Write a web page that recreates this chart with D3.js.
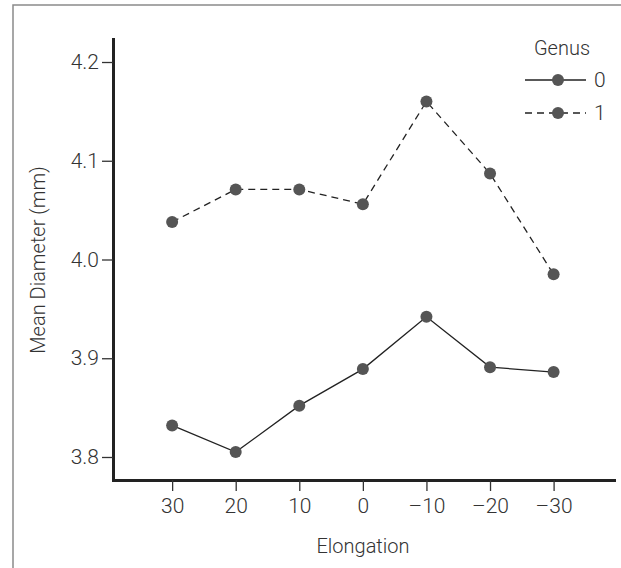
<!DOCTYPE html>
<html>
<head>
<meta charset="utf-8">
<title>Mean Diameter by Elongation</title>
<script src="https://d3js.org/d3.v7.min.js"></script>
<style>
  body { margin: 0; background: #fff; }
  text { font-family: Roboto, "Liberation Sans", sans-serif; font-weight: 300; fill: #333; }
  .axis .tick line { stroke: #333; stroke-width: 1.3; }
  .axis .domain { stroke: #222; stroke-width: 3; stroke-linecap: square; }
  .axis text { font-size: 21px; }
</style>
</head>
<body>
<script>
var elongation = [30, 20, 10, 0, -10, -20, -30];
var genus0 = [3.832, 3.805, 3.852, 3.889, 3.942, 3.891, 3.886];
var genus1 = [4.038, 4.071, 4.071, 4.056, 4.160, 4.087, 3.985];
var yTicks = [3.8, 3.9, 4.0, 4.1, 4.2];
var genusNames = ["0", "1"];

var width = 621, height = 568;

var svg = d3.select("body").append("svg")
    .attr("width", width)
    .attr("height", height);

// gray frame round the figure
svg.append("rect")
    .attr("x", 13).attr("y", 5)
    .attr("width", 640).attr("height", 600)
    .attr("fill", "none")
    .attr("stroke", "#8a8a8a")
    .attr("stroke-width", 1.5);

var x = d3.scaleLinear().domain([39.3, -39.5]).range([113, 614]);
var y = d3.scaleLinear().domain([3.7767, 4.2233]).range([480, 39]);

var xAxis = d3.axisBottom(x)
    .tickValues(elongation)
    .tickSize(11).tickSizeOuter(0).tickPadding(7)
    .tickFormat(function(d) { return d < 0 ? "\u2013" + Math.abs(d) : d; });
var yAxis = d3.axisLeft(y)
    .tickValues(yTicks)
    .tickSize(11).tickSizeOuter(0).tickPadding(3)
    .tickFormat(d3.format(".1f"));

svg.append("g").attr("class", "axis")
    .attr("transform", "translate(0,480)")
    .call(xAxis);
svg.append("g").attr("class", "axis")
    .attr("transform", "translate(113,0)")
    .call(yAxis);

// axis titles
svg.append("text")
    .attr("x", 363).attr("y", 553)
    .attr("text-anchor", "middle")
    .style("font-size", "20px")
    .text("Elongation");
svg.append("text")
    .attr("transform", "translate(45,260) rotate(-90)")
    .attr("text-anchor", "middle")
    .style("font-size", "20px")
    .text("Mean Diameter (mm)");

var series = [
    { name: genusNames[0], values: genus0, dash: null },
    { name: genusNames[1], values: genus1, dash: "7,5" }
];

var line = d3.line()
    .x(function(d, i) { return x(elongation[i]); })
    .y(function(d) { return y(d); });

series.forEach(function(s) {
    svg.append("path")
        .datum(s.values)
        .attr("d", line)
        .attr("fill", "none")
        .attr("stroke", "#222")
        .attr("stroke-width", 1.3)
        .attr("stroke-dasharray", s.dash);
    svg.selectAll(null)
        .data(s.values)
        .enter().append("circle")
        .attr("cx", function(d, i) { return x(elongation[i]); })
        .attr("cy", function(d) { return y(d); })
        .attr("r", 6)
        .attr("fill", "#555");
});

// legend
var legend = svg.append("g").attr("transform", "translate(525,0)");
legend.append("text")
    .attr("x", 37).attr("y", 55)
    .attr("text-anchor", "middle")
    .style("font-size", "20px")
    .text("Genus");
series.forEach(function(s, i) {
    var ly = 80 + i * 33;
    legend.append("line")
        .attr("x1", 0).attr("x2", 61)
        .attr("y1", ly).attr("y2", ly)
        .attr("stroke", "#222")
        .attr("stroke-width", 1.3)
        .attr("stroke-dasharray", s.dash);
    legend.append("circle")
        .attr("cx", 33).attr("cy", ly).attr("r", 6)
        .attr("fill", "#555");
    legend.append("text")
        .attr("x", 69).attr("y", ly + 7)
        .style("font-size", "21px")
        .text(s.name);
});
</script>
</body>
</html>
